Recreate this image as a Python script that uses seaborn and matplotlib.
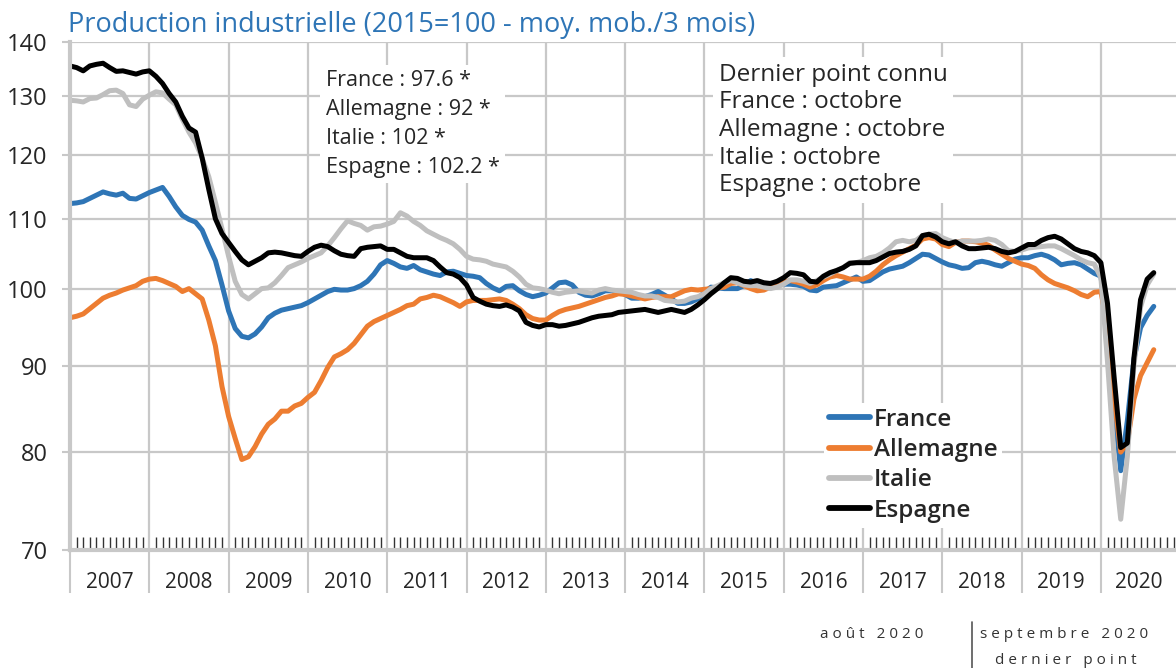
import numpy as np
import pandas as pd
import matplotlib
matplotlib.use('Agg')
import matplotlib.pyplot as plt
from matplotlib.lines import Line2D
from matplotlib.ticker import FixedLocator, NullLocator
import seaborn as sns

# 3-month moving average, base 2015=100, monthly from Jan 2007 to Sep 2020
france = [
    112.3, 112.4, 112.6, 113.1, 113.6, 114.1, 113.8, 113.6, 113.9, 113.1, 113.0, 113.5,
    114.0, 114.4, 114.8, 113.4, 111.8, 110.5, 109.9, 109.5, 108.3, 106.0, 103.9, 100.5,
    97.0, 94.7, 93.7, 93.5, 94.0, 94.9, 96.1, 96.7, 97.1, 97.3, 97.5, 97.7,
    98.1, 98.6, 99.1, 99.6, 99.9, 99.8, 99.8, 100.0, 100.4, 101.0, 102.0, 103.3,
    103.9, 103.5, 103.0, 102.8, 103.2, 102.6, 102.3, 102.0, 101.8, 102.3, 102.4, 102.1,
    101.8, 101.7, 101.5, 100.7, 100.1, 99.7, 100.3, 100.4, 99.7, 99.2, 98.9, 99.1,
    99.4, 100.1, 100.8, 100.9, 100.5, 99.5, 99.1, 99.0, 99.3, 99.7, 99.7, 99.6,
    99.2, 98.7, 98.7, 98.9, 99.2, 99.6, 99.1, 98.6, 98.0, 98.0, 98.2, 98.6,
    99.5, 100.2, 100.1, 100.0, 100.0, 100.0, 100.4, 101.1, 100.7, 100.4, 100.5, 100.6,
    100.6, 100.6, 100.5, 100.3, 99.8, 99.7, 100.2, 100.3, 100.4, 100.8, 101.2, 101.6,
    101.0, 101.1, 101.7, 102.3, 102.7, 102.9, 103.1, 103.6, 104.2, 104.8, 104.7, 104.2,
    103.7, 103.3, 103.1, 102.8, 102.9, 103.6, 103.8, 103.6, 103.3, 103.1, 103.6, 104.1,
    104.3, 104.3, 104.6, 104.8, 104.5, 104.0, 103.3, 103.5, 103.6, 103.3, 102.7, 102.1,
    101.7, 95.0, 85.0, 78.0, 83.5, 90.8, 94.8, 96.4, 97.6,
]
allemagne = [
    96.1, 96.3, 96.6, 97.3, 98.0, 98.7, 99.1, 99.4, 99.8, 100.1, 100.4, 101.0,
    101.3, 101.4, 101.1, 100.7, 100.3, 99.6, 100.0, 99.3, 98.6, 95.8, 92.5, 87.5,
    84.0, 81.5, 79.2, 79.5, 80.6, 82.0, 83.1, 83.7, 84.6, 84.6, 85.2, 85.5,
    86.2, 86.8, 88.2, 89.8, 91.1, 91.5, 92.0, 92.8, 93.9, 95.0, 95.6, 96.0,
    96.4, 96.8, 97.2, 97.7, 97.9, 98.6, 98.8, 99.1, 98.9, 98.5, 98.1, 97.6,
    98.2, 98.4, 98.4, 98.4, 98.5, 98.6, 98.4, 97.9, 97.3, 96.5, 96.0, 95.8,
    95.8, 96.4, 96.9, 97.2, 97.4, 97.6, 97.9, 98.2, 98.5, 98.8, 99.0, 99.3,
    99.2, 99.0, 98.8, 98.6, 98.8, 98.9, 98.9, 98.9, 99.3, 99.7, 99.9, 99.8,
    99.9, 100.0, 100.1, 100.2, 100.7, 100.8, 100.4, 100.0, 99.7, 99.8, 100.2, 100.5,
    100.9, 101.1, 100.9, 100.6, 100.2, 100.5, 101.1, 101.6, 101.8, 101.6, 101.3, 101.3,
    101.3, 101.7, 102.4, 103.3, 104.0, 104.6, 105.1, 105.6, 106.1, 107.0, 107.2, 107.0,
    106.2, 105.9, 106.5, 106.7, 106.7, 106.6, 106.4, 106.1, 105.4, 104.8, 104.2, 103.8,
    103.4, 103.2, 102.8, 101.9, 101.2, 100.7, 100.4, 100.1, 99.7, 99.2, 98.9, 99.5,
    99.6, 95.0, 86.0, 80.0, 81.0, 86.0, 88.8, 90.4, 92.0,
]
italie = [
    129.3, 129.2, 129.0, 129.6, 129.7, 130.3, 131.0, 131.1, 130.5, 128.5, 128.2, 129.5,
    130.2, 130.8, 130.6, 129.5, 128.5, 126.0, 123.8, 122.0, 119.5, 116.5, 112.5, 108.5,
    104.5, 101.0, 99.2, 98.6, 99.3, 100.0, 100.1, 100.8, 101.8, 102.9, 103.3, 103.7,
    104.2, 104.6, 105.0, 106.0, 107.2, 108.5, 109.7, 109.3, 109.0, 108.3, 108.8, 108.9,
    109.2, 109.6, 110.9, 110.4, 109.6, 109.0, 108.2, 107.7, 107.2, 106.8, 106.3, 105.5,
    104.5, 104.1, 104.0, 103.8, 103.4, 103.2, 103.0, 102.4, 101.6, 100.6, 100.1, 100.0,
    99.8, 99.5, 99.3, 99.5, 99.6, 99.7, 99.5, 99.4, 99.8, 100.0, 99.8, 99.7,
    99.6, 99.5, 99.2, 99.0, 99.0, 98.8, 98.4, 98.3, 98.2, 98.3, 98.7, 98.9,
    99.3, 100.0, 100.4, 100.8, 101.1, 100.8, 100.5, 100.4, 100.4, 100.2, 100.0, 100.2,
    100.6, 101.2, 101.2, 101.0, 100.7, 101.1, 101.6, 102.0, 102.5, 102.9, 103.6, 103.6,
    103.9, 104.3, 104.5, 105.0, 105.7, 106.6, 106.8, 106.6, 106.8, 107.5, 107.7, 107.8,
    107.2, 106.8, 106.5, 106.7, 106.7, 106.7, 106.8, 107.0, 106.8, 106.2, 105.3, 105.2,
    105.4, 105.7, 105.8, 105.9, 106.0, 106.0, 105.6, 105.1, 104.6, 104.0, 103.6, 103.4,
    101.5, 90.5, 79.5, 73.0, 79.5, 90.0, 97.5, 100.5, 102.0,
]
espagne = [
    135.5, 135.2, 134.6, 135.5, 135.8, 136.0, 135.2, 134.5, 134.6, 134.3, 134.0, 134.4,
    134.6, 133.6, 132.3, 130.5, 129.0, 126.5, 124.5, 123.8, 119.5, 114.5, 110.0, 107.8,
    106.5, 105.2, 104.0, 103.3, 103.8, 104.3, 105.0, 105.1, 105.0, 104.8, 104.6, 104.5,
    105.2, 105.8, 106.1, 105.9, 105.3, 104.8, 104.6, 104.5, 105.6, 105.8, 105.9, 106.0,
    105.5, 105.5, 105.0, 104.5, 104.3, 104.3, 104.3, 103.9, 103.0, 102.2, 102.0, 101.5,
    100.5, 98.8, 98.3, 97.9, 97.7, 97.6, 97.8, 97.5, 97.0, 95.5, 95.1, 94.9,
    95.2, 95.2, 95.0, 95.1, 95.3, 95.5, 95.8, 96.1, 96.3, 96.4, 96.5, 96.8,
    96.9, 97.0, 97.1, 97.2, 97.0, 96.8, 97.0, 97.2, 97.0, 96.8, 97.2, 97.8,
    98.5, 99.3, 100.0, 100.8, 101.5, 101.4, 101.0, 100.9, 101.1, 100.8, 100.7, 101.0,
    101.5, 102.2, 102.1, 101.9, 101.0, 100.9, 101.7, 102.2, 102.5, 102.9, 103.5, 103.6,
    103.6, 103.6, 103.9, 104.4, 104.9, 105.1, 105.2, 105.5, 106.0, 107.5, 107.7, 107.3,
    106.6, 106.3, 106.6, 106.0, 105.6, 105.6, 105.7, 105.8, 105.6, 105.2, 105.0, 105.2,
    105.7, 106.2, 106.2, 106.8, 107.2, 107.4, 107.0, 106.3, 105.6, 105.2, 105.0, 104.6,
    103.6, 98.0, 88.6, 80.5, 81.0, 91.0, 98.5, 101.3, 102.2,
]

pays = ['France', 'Allemagne', 'Italie', 'Espagne']
couleurs = ['#2E75B6', '#ED7D31', '#BFBFBF', '#000000']
annees = list(range(2007, 2021))
yticks = [70, 80, 90, 100, 110, 120, 130, 140]
dates = pd.date_range('2007-01-01', periods=len(france), freq='MS')

df = pd.DataFrame({'date': dates.year + (dates.month - 1) / 12,
                   'France': france, 'Allemagne': allemagne,
                   'Italie': italie, 'Espagne': espagne})
df = df.melt(id_vars='date', var_name='pays', value_name='indice')

sns.set_style('white')
plt.rcParams['font.family'] = ['Open Sans', 'DejaVu Sans']

W, H = 1176, 668
fig = plt.figure(figsize=(W / 100, H / 100), dpi=100)
ax = fig.add_axes([70 / W, 1 - 550 / H, 1106 / W, 508 / H])

sns.lineplot(data=df, x='date', y='indice', hue='pays', hue_order=pays,
             palette=dict(zip(pays, couleurs)), linewidth=3.6, ax=ax,
             legend=False)

gris = '#c8c8c8'
ax.set_yscale('log')
ax.set_ylim(70, 140)
ax.yaxis.set_major_locator(FixedLocator(yticks))
ax.yaxis.set_minor_locator(NullLocator())
ax.set_yticklabels([str(v) for v in yticks])
ax.set_xlim(2007, 2007 + 1106 / 79.3)
ax.set_xticks(annees)
ax.set_xticklabels([''] * len(annees))
mois = [2007 + m / 12 for m in range(168) if m % 12]
ax.set_xticks(mois, minor=True)
ax.set_xlabel('')
ax.set_ylabel('')

ax.grid(True, which='major', color=gris, linewidth=1.6)
ax.set_axisbelow(True)
ax.tick_params(axis='y', which='major', left=True, direction='out', length=6,
               width=1.5, color=gris, labelsize=17, pad=10)
ax.tick_params(axis='x', which='major', bottom=True, direction='out', length=31,
               width=1.5, color=gris)
ax.tick_params(axis='x', which='minor', bottom=True, direction='in', length=9.5,
               width=1, color='#333333')
for s in ['top', 'right']:
    ax.spines[s].set_visible(False)
for s in ['left', 'bottom']:
    ax.spines[s].set_color(gris)
    ax.spines[s].set_linewidth(3)

xmax = ax.get_xlim()[1]
for a in annees:
    xc = a + 0.5 if a < 2020 else (a + xmax) / 2
    ax.text(xc, -0.063, str(a), transform=ax.get_xaxis_transform(),
            ha='center', va='center', fontsize=15)

fig.text(68 / W, 1 - 25 / H, 'Production industrielle (2015=100 - moy. mob./3 mois)',
         color='#2E75B6', fontsize=19.5, va='center', ha='left')

fig.text(326 / W, 1 - 124 / H,
         'France : 97.6 *\nAllemagne : 92 *\nItalie : 102 *\nEspagne : 102.2 *',
         fontsize=15.5, va='center', ha='left', linespacing=1.48,
         bbox=dict(facecolor='white', edgecolor='none', pad=4))
fig.text(719 / W, 1 - 130 / H,
         'Dernier point connu\nFrance : octobre\nAllemagne : octobre\n'
         'Italie : octobre\nEspagne : octobre',
         fontsize=17.5, va='center', ha='left', linespacing=1.2,
         bbox=dict(facecolor='white', edgecolor='none', pad=4))

handles = [Line2D([], [], color=c, linewidth=4.2) for c in couleurs]
leg = ax.legend(handles, pays, loc='upper left',
                bbox_to_anchor=(824 / W, 1 - 403 / H), bbox_transform=fig.transFigure,
                frameon=True, facecolor='white', edgecolor='none', framealpha=1,
                fontsize=17.5, handlelength=1.7, handletextpad=0.15,
                labelspacing=0.26, borderpad=0.2, borderaxespad=0)
for t in leg.get_texts():
    t.set_fontweight('semibold')

fig.text(820 / W, 1 - 635 / H, 'a o û t   2 0 2 0', fontsize=11, color='#333333',
         va='center', ha='left')
fig.add_artist(Line2D([972 / W, 972 / W], [0, 1 - 622 / H], color='#555555',
                      linewidth=1.2, transform=fig.transFigure))
fig.text(1064 / W, 1 - 635 / H, 's e p t e m b r e   2 0 2 0', fontsize=11,
         color='#333333', va='center', ha='center')
fig.text(1066 / W, 1 - 660 / H, 'd e r n i e r   p o i n t', fontsize=11,
         color='#333333', va='center', ha='center')

fig.savefig('out.png', dpi=100)
